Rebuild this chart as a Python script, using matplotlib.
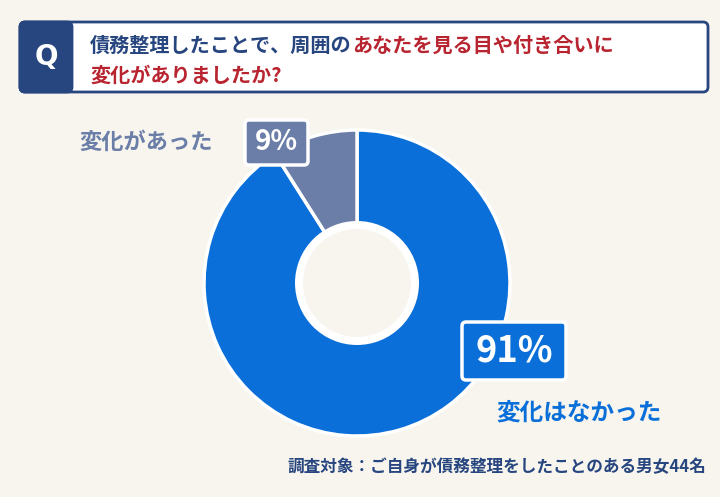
import matplotlib
matplotlib.use("Agg")
import matplotlib.pyplot as plt
from matplotlib.patches import FancyBboxPatch, Circle, Rectangle

labels = ["変化はなかった", "変化があった"]
values = [91, 9]
pct_text = ["91%", "9%"]
title_blue1 = "債務整理したことで、周囲の"
title_red1 = "あなたを見る目や付き合いに"
title_red2 = "変化がありましたか?"
footnote = "調査対象：ご自身が債務整理をしたことのある男女44名"

BG = "#f8f5ee"; BLUE = "#0a6fd8"; GRAY = "#6a7ea8"; NAVY = "#27467f"; RED = "#b8242f"
FONT = "Noto Sans CJK JP"
H = 497
fig = plt.figure(figsize=(7.2, 4.97), dpi=100, facecolor=BG)
ax = fig.add_axes([0, 0, 1, 1]); ax.set_xlim(0, 720); ax.set_ylim(0, H); ax.axis("off")
ax.set_facecolor(BG)

# title box
ax.add_patch(FancyBboxPatch((20, H-92), 688, 70, boxstyle="round,pad=0,rounding_size=5",
                            fc="white", ec=NAVY, lw=2))
ax.add_patch(FancyBboxPatch((20, H-92), 52, 70, boxstyle="round,pad=0,rounding_size=5",
                            fc=NAVY, ec=NAVY, lw=2))
ax.text(46, H-57, "Q", color="white", fontsize=20, fontweight="bold", ha="center", va="center", family="DejaVu Sans")
t1 = ax.text(90, H-45, title_blue1, color=NAVY, fontsize=14.5, fontweight="bold", va="center", family=FONT)
fig.canvas.draw()
bb = t1.get_window_extent(); x2 = bb.x1
ax.text(x2, H-45, title_red1, color=RED, fontsize=14.5, fontweight="bold", va="center", family=FONT)
ax.text(90, H-75, title_red2, color=RED, fontsize=14.5, fontweight="bold", va="center", family=FONT)

# donut
cx, cy, R = 357, H-283, 153
ax.pie(values, colors=[BLUE, GRAY], startangle=90, counterclock=False, center=(cx, cy), radius=R,
       wedgeprops=dict(edgecolor="white", linewidth=2.5), frame=True)
ax.set_xlim(0, 720); ax.set_ylim(0, H); ax.axis("off")
ax.add_patch(Circle((cx, cy), 62, fc="white", ec="none", zorder=5))
ax.add_patch(Circle((cx, cy), 54, fc=BG, ec="none", zorder=6))

# labels
ax.add_patch(FancyBboxPatch((245, H-165), 63, 45, boxstyle="round,pad=0,rounding_size=4",
                            fc=GRAY, ec="white", lw=2.5, zorder=7))
ax.text(276, H-142, pct_text[1], color="white", fontsize=20, fontweight="bold", ha="center", va="center", zorder=8, family=FONT)
ax.text(146, H-142, labels[1], color=GRAY, fontsize=16, fontweight="bold", ha="center", va="center", family=FONT)

ax.add_patch(FancyBboxPatch((462, H-380), 104, 58, boxstyle="round,pad=0,rounding_size=4",
                            fc=BLUE, ec="white", lw=2.5, zorder=7))
ax.text(514, H-351, pct_text[0], color="white", fontsize=26, fontweight="bold", ha="center", va="center", zorder=8, family=FONT)
ax.text(579, H-413, labels[0], color=BLUE, fontsize=17, fontweight="bold", ha="center", va="center", family=FONT)

ax.text(706, H-467, footnote, color=NAVY, fontsize=12, fontweight="bold", ha="right", va="center", family=FONT)
fig.savefig("out.png", dpi=100, facecolor=BG)
